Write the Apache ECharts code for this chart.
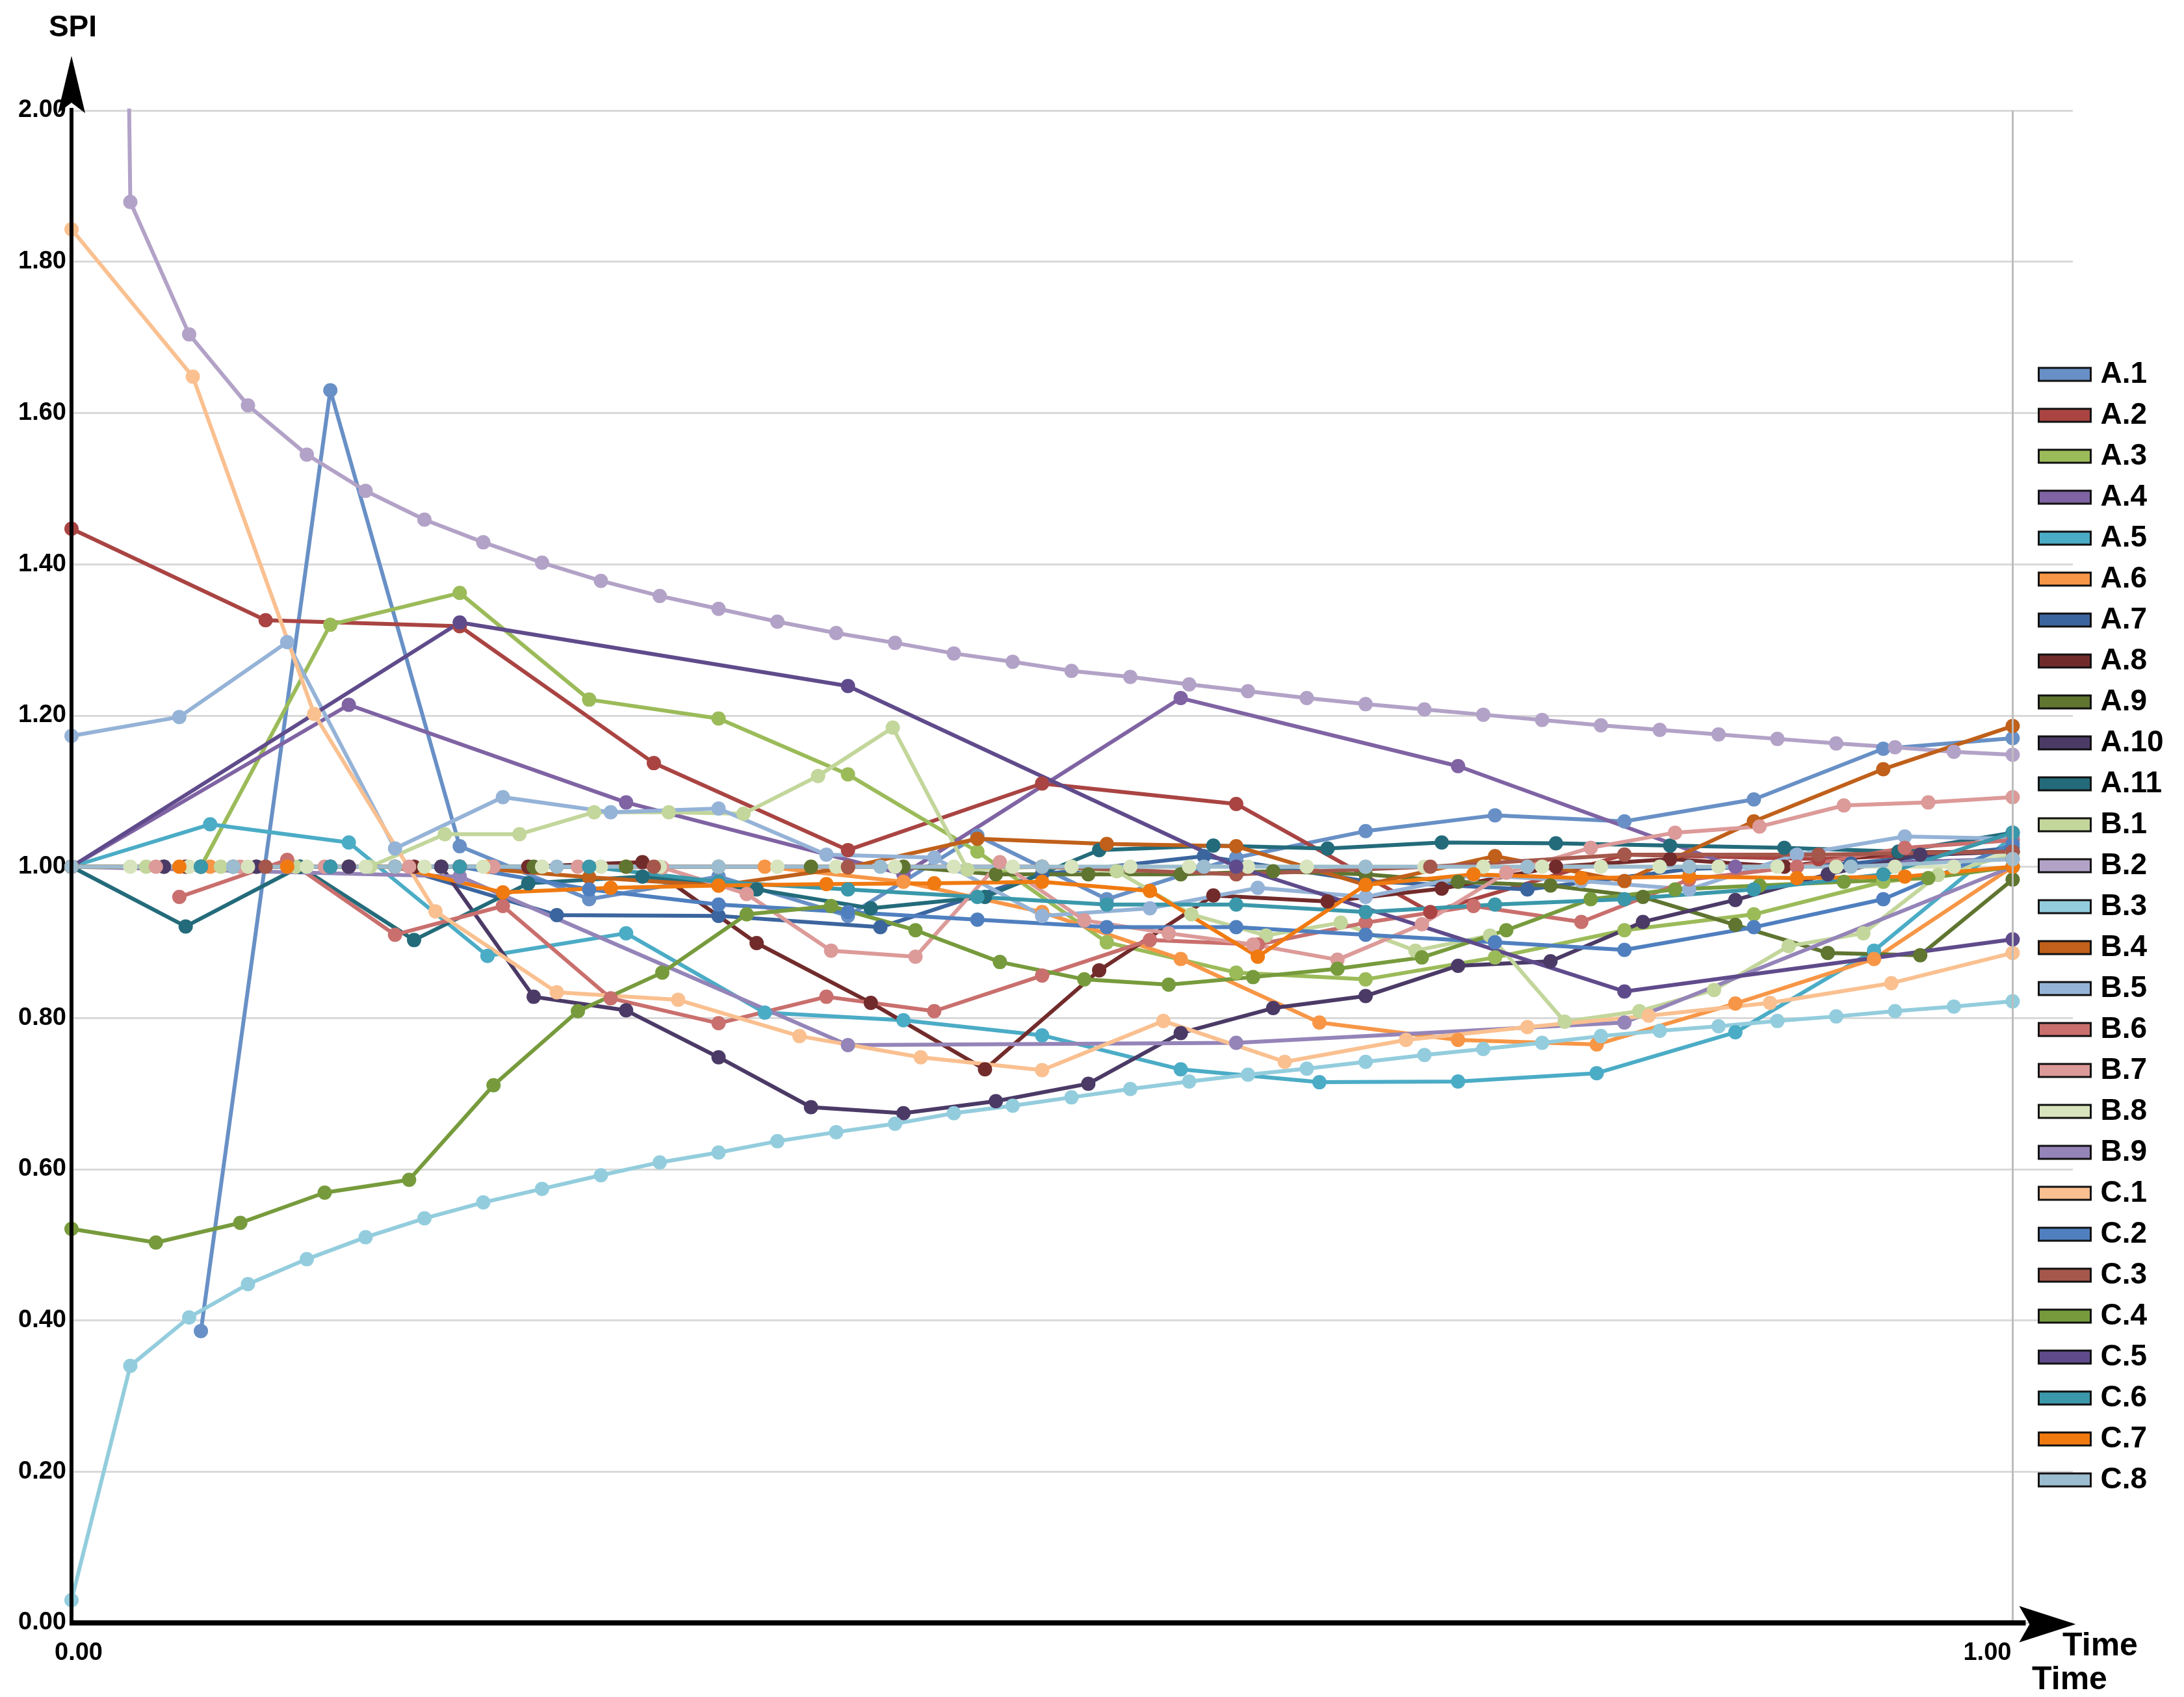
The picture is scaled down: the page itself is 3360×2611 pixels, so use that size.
<!DOCTYPE html>
<html>
<head>
<meta charset="utf-8">
<title>SPI</title>
<script src="https://cdn.jsdelivr.net/npm/echarts@6/dist/echarts.min.js"></script>
<style>
  html, body { margin: 0; padding: 0; background: #fff; }
  #chart { width: 3360px; height: 2611px; }
</style>
</head>
<body>
<div id="chart"></div>
<script>
// every series is sampled evenly over the time axis 0..1 (step = 1 / (length - 1))
const xTickValues = [0, 1];
const xTickLabels = ['0.00', '1.00'];

const A1 = [null, 0.386, 1.630, 1.027, 0.957, 0.987, 0.935, 1.041, 0.957, 1.012, 1.047, 1.068, 1.060, 1.089, 1.156, 1.170];
const A2 = [1.447, 1.326, 1.318, 1.137, 1.022, 1.110, 1.083, 0.940, 1.016, 1.010, 1.020];
const A3 = [1.0, 1.0, 1.320, 1.362, 1.221, 1.196, 1.122, 1.02, 0.90, 0.860, 0.851, 0.880, 0.916, 0.937, 0.98, 1.0];
const A4 = [1.0, 1.214, 1.085, 0.99, 1.223, 1.133, 1.00, 1.01];
const A5 = [1.0, 1.056, 1.032, 0.882, 0.912, 0.807, 0.797, 0.777, 0.732, 0.715, 0.716, 0.727, 0.781, 0.889, 1.04];
const A6 = [1, 1, 1, 1, 1, 1, 0.98, 0.94, 0.878, 0.794, 0.771, 0.765, 0.819, 0.878, 1.0];
const A7 = [1, 1, 1, 0.936, 0.935, 0.920, 0.99, 1.014, 0.981, 0.97, 0.997, 1.004, 1.025];
const A8 = [1, 1, 1, 1, 1, 1.006, 0.899, 0.820, 0.732, 0.863, 0.962, 0.954, 0.971, 1.0, 1.01, 1.0, 1.019, 1.02];
const A9 = [1, 1, 1, 1, 1, 1, 1, 1, 1, 1, 0.99, 0.99, 0.99, 0.994, 0.99, 0.98, 0.975, 0.96, 0.923, 0.886, 0.883, 0.983];
const A10 = [1, 1, 1, 1, 1, 0.828, 0.810, 0.748, 0.682, 0.674, 0.690, 0.713, 0.780, 0.813, 0.829, 0.869, 0.875, 0.927, 0.956, 0.99, 1.016, 1.02];
const A11 = [1.0, 0.921, 1.0, 0.903, 0.978, 0.987, 0.97, 0.945, 0.96, 1.022, 1.028, 1.024, 1.032, 1.031, 1.028, 1.025, 1.02, 1.045];
const B1 = [1, 1, 1, 1, 1, 1.043, 1.043, 1.072, 1.072, 1.070, 1.120, 1.184, 0.996, 1.0, 0.994, 0.937, 0.909, 0.926, 0.889, 0.909, 0.795, 0.809, 0.837, 0.895, 0.912, 0.989, 1.017];
const B2 = [8, 1.879, 1.704, 1.610, 1.545, 1.497, 1.459, 1.429, 1.402, 1.378, 1.358, 1.341, 1.324, 1.309, 1.296, 1.282, 1.271, 1.259, 1.251, 1.241, 1.232, 1.223, 1.215, 1.208, 1.201, 1.194, 1.187, 1.181, 1.175, 1.169, 1.163, 1.158, 1.152, 1.148];
const B3 = [0.03, 0.340, 0.404, 0.448, 0.481, 0.510, 0.535, 0.556, 0.574, 0.592, 0.609, 0.622, 0.637, 0.649, 0.660, 0.674, 0.684, 0.695, 0.706, 0.716, 0.725, 0.733, 0.742, 0.751, 0.759, 0.767, 0.776, 0.783, 0.789, 0.796, 0.802, 0.809, 0.815, 0.822];
const B4 = [1, 1, 1, 1, 0.986, 0.975, 0.999, 1.037, 1.030, 1.027, 0.976, 1.014, 0.981, 1.060, 1.129, 1.186];
const B5 = [1.173, 1.198, 1.297, 1.024, 1.092, 1.072, 1.077, 1.016, 1.012, 0.935, 0.945, 0.972, 0.960, 0.989, 0.981, 0.970, 1.016, 1.040, 1.037];
const B6 = [null, 0.960, 1.009, 0.910, 0.948, 0.826, 0.793, 0.828, 0.809, 0.856, 0.903, 0.897, 0.926, 0.948, 0.927, 0.983, 1.0, 1.025, 1.035];
const B7 = [1, 1, 1, 1, 1, 1, 1, 0.999, 0.964, 0.889, 0.881, 1.006, 0.929, 0.912, 0.897, 0.877, 0.924, 0.992, 1.025, 1.045, 1.053, 1.081, 1.085, 1.092];
const B8 = [1, 1, 1, 1, 1, 1, 1, 1, 1, 1, 1, 1, 1, 1, 1, 1, 1, 1, 1, 1, 1, 1, 1, 1, 1, 1, 1, 1, 1, 1, 1, 1, 1, 1.02];
const B9 = [1.0, 0.987, 0.764, 0.767, 0.794, 1.0];
const C1 = [1.843, 1.648, 1.202, 0.941, 0.834, 0.824, 0.776, 0.748, 0.731, 0.796, 0.742, 0.771, 0.788, 0.803, 0.820, 0.846, 0.886];
const C2 = [1, 1, 1, 1, 0.97, 0.95, 0.94, 0.93, 0.92, 0.92, 0.91, 0.90, 0.890, 0.92, 0.957, 1.03];
const C3 = [1, 1, 1, 1, 1, 1, 0.99, 1.0, 1.016, 1.016, 1.02];
const C4 = [0.521, 0.503, 0.529, 0.569, 0.586, 0.711, 0.809, 0.860, 0.937, 0.948, 0.916, 0.874, 0.851, 0.844, 0.854, 0.865, 0.880, 0.916, 0.957, 0.97, 0.975, 0.98, 0.985, 1.0];
const C5 = [1.0, 1.323, 1.239, 1.0, 0.835, 0.904];
const C6 = [1, 1, 1, 1, 1, 0.98, 0.97, 0.96, 0.95, 0.95, 0.94, 0.95, 0.957, 0.97, 0.99, 1.045];
const C7 = [1, 1, 1, 1, 0.966, 0.972, 0.975, 0.977, 0.978, 0.98, 0.968, 0.881, 0.976, 0.99, 0.985, 0.987, 0.985, 0.987, 1.0];
const C8 = [1, 1, 1, 1, 1, 1, 1, 1, 1, 1, 1, 1, 1.01];

const seriesNames = ['A.1', 'A.2', 'A.3', 'A.4', 'A.5', 'A.6', 'A.7', 'A.8', 'A.9', 'A.10', 'A.11',
  'B.1', 'B.2', 'B.3', 'B.4', 'B.5', 'B.6', 'B.7', 'B.8', 'B.9',
  'C.1', 'C.2', 'C.3', 'C.4', 'C.5', 'C.6', 'C.7', 'C.8'];
const seriesValues = [A1, A2, A3, A4, A5, A6, A7, A8, A9, A10, A11,
  B1, B2, B3, B4, B5, B6, B7, B8, B9,
  C1, C2, C3, C4, C5, C6, C7, C8];

const colors = ['#6890c6', '#a94442', '#9bbb59', '#7f63a3', '#4bacc6', '#f79646', '#3b659e', '#722b2b', '#5f7530', '#4b3a66', '#236b7a',
  '#c3d69b', '#b3a2c7', '#93cddd', '#c0601a', '#95b3d7', '#c96f6d', '#dc9a99', '#d7e4bd', '#9484b8',
  '#fac090', '#4f7fbf', '#a5574b', '#779b3c', '#5f4b8b', '#3a98aa', '#f07a10', '#9cbcd0'];

const fontFamily = 'Liberation Sans, Arial, sans-serif';

const series = seriesNames.map((name, i) => {
  const vals = seriesValues[i];
  const n = vals.length - 1;
  const s = {
    name: name,
    type: 'line',
    data: vals.map((v, k) => [k / n, v === null ? '-' : v]),
    symbol: 'circle',
    symbolSize: 22,
    lineStyle: { width: 6, color: colors[i] },
    itemStyle: { color: colors[i] },
    clip: true,
    animation: false
  };
  if (i === 0) {
    s.markLine = {
      silent: true,
      symbol: 'none',
      label: { show: false },
      lineStyle: { color: '#bdbdbd', width: 3, type: 'solid' },
      data: [{ xAxis: 1 }],
      animation: false
    };
  }
  return s;
});

const chart = echarts.init(document.getElementById('chart'));

chart.setOption({
  backgroundColor: '#fff',
  animation: false,
  color: colors,
  grid: { left: 110, top: 170, width: 3079, height: 2327, outerBoundsMode: 'none' },
  legend: {
    orient: 'vertical',
    left: 3130,
    top: 548,
    icon: 'rect',
    itemWidth: 80,
    itemHeight: 20,
    itemGap: 17,
    selectedMode: false,
    itemStyle: { borderColor: '#111', borderWidth: 3 },
    textStyle: { fontSize: 46, fontWeight: 'bold', fontFamily: fontFamily, color: '#000', lineHeight: 46, padding: [0, 0, 0, 10] },
    data: seriesNames
  },
  xAxis: {
    type: 'value',
    min: 0,
    max: 1.031,
    interval: 1,
    axisLine: { show: false },
    axisTick: { show: false },
    splitLine: { show: false },
    axisLabel: {
      showMaxLabel: false,
      margin: 28,
      formatter: function (v) {
        const idx = xTickValues.indexOf(v);
        if (idx < 0) return '';
        return (idx === 0 ? '{a|' : '{b|') + xTickLabels[idx] + '}';
      },
      rich: {
        a: { fontSize: 38, fontWeight: 'bold', fontFamily: fontFamily, color: '#000', padding: [0, 0, 0, 22] },
        b: { fontSize: 38, fontWeight: 'bold', fontFamily: fontFamily, color: '#000', padding: [0, 78, 0, 0] }
      }
    }
  },
  yAxis: {
    type: 'value',
    min: 0,
    max: 2,
    interval: 0.2,
    axisLine: { show: false },
    axisTick: { show: false },
    axisLabel: {
      formatter: v => v.toFixed(2),
      fontSize: 38,
      fontWeight: 'bold',
      fontFamily: fontFamily,
      color: '#000',
      margin: 8
    },
    splitLine: { lineStyle: { color: '#d9d9d9', width: 3 } }
  },
  series: series
});

// axis arrows and titles, placed from the grid's own coordinates
const p0 = chart.convertToPixel({ gridIndex: 0 }, [0, 0]);
const p1 = chart.convertToPixel({ gridIndex: 0 }, [1, 0]);
const pTop = chart.convertToPixel({ gridIndex: 0 }, [0, 2]);
const x0 = p0[0], y0 = p0[1], x1 = p1[0], yTop = pTop[1];

chart.setOption({
  graphic: [
    { type: 'line', z: 100, shape: { x1: x0, y1: y0 + 3, x2: x0, y2: yTop - 4 }, style: { stroke: '#000', lineWidth: 6 } },
    { type: 'polygon', z: 100, shape: { points: [[x0, yTop - 84], [x0 - 21, yTop + 4], [x0, yTop - 12], [x0 + 21, yTop + 4]] }, style: { fill: '#000' } },
    { type: 'line', z: 100, shape: { x1: x0 - 3, y1: y0, x2: x1 + 20, y2: y0 }, style: { stroke: '#000', lineWidth: 8 } },
    { type: 'polygon', z: 100, shape: { points: [[x1 + 97, y0 + 2], [x1 + 10, y0 - 26], [x1 + 26, y0 + 2], [x1 + 10, y0 + 30]] }, style: { fill: '#000' } },
    { type: 'text', z: 100, x: x0 + 2, y: 43, style: { text: 'SPI', fontSize: 46, fontWeight: 'bold', fontFamily: fontFamily, fill: '#000', align: 'center', verticalAlign: 'middle' } },
    { type: 'text', z: 100, x: 3231, y: 2533, style: { text: 'Time', fontSize: 50, fontWeight: 'bold', fontFamily: fontFamily, fill: '#000', align: 'center', verticalAlign: 'middle' } },
    { type: 'text', z: 100, x: 3184, y: 2585, style: { text: 'Time', fontSize: 50, fontWeight: 'bold', fontFamily: fontFamily, fill: '#000', align: 'center', verticalAlign: 'middle' } }
  ]
});
</script>
</body>
</html>
